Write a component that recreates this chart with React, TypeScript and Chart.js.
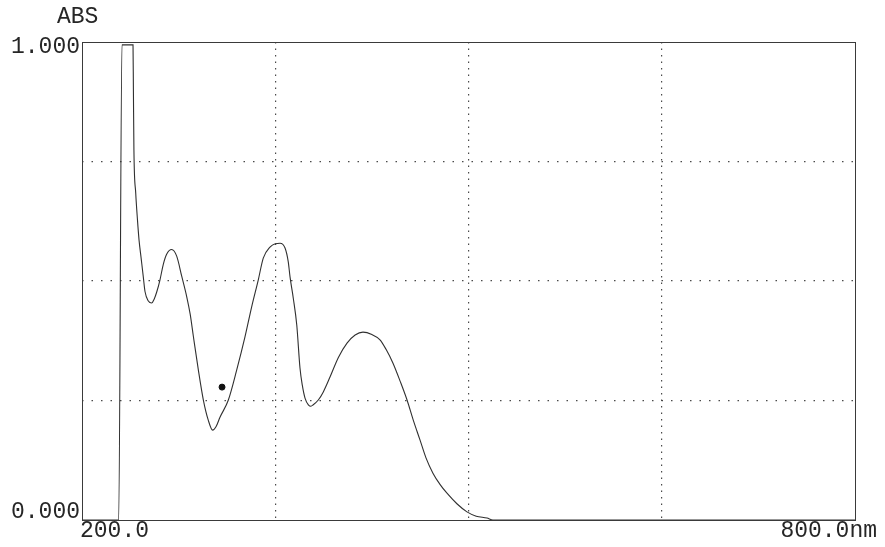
import React, { useEffect, useRef } from "react";
import { Chart, registerables } from "chart.js";

Chart.register(...registerables);

// Wavelength (nm) and absorbance
const wavelengths: number[] = [
  200, 228.5, 231, 239.6, 239.9, 240.3, 241.7, 243.0, 244.3, 245.8, 247.6, 248.9, 251.5, 254.1,
  256, 258.0, 260.5, 263.1, 265.7, 269.6, 273.5, 277.4, 281.3, 284, 286.4, 290.3, 294.2, 298.0,
  301.4, 304, 307.1, 313.6, 320.1, 326.5, 331.7, 336.8, 340.7, 345.9, 350, 353.7, 357.6, 360.1,
  361.5, 364.0, 366.7, 369.2, 371.0, 373.1, 375.7, 377.7, 379.5, 383.4, 387.3, 392.5, 399,
  405.7, 412, 418.1, 425, 431.3, 436, 441.4, 447, 452.3, 457, 462.4, 467, 472.4, 478, 483.3,
  491, 498.8, 506, 514.4, 519, 800,
];
const absorbance: number[] = [
  0, 0, 0.994, 0.994, 0.9, 0.774, 0.684, 0.63, 0.585, 0.55, 0.508, 0.478, 0.458, 0.454,
  0.462, 0.477, 0.502, 0.535, 0.556, 0.566, 0.552, 0.51, 0.467, 0.43, 0.385, 0.314, 0.251, 0.209,
  0.188, 0.195, 0.215, 0.251, 0.314, 0.383, 0.446, 0.502, 0.548, 0.571, 0.578, 0.579, 0.569, 0.54,
  0.508, 0.464, 0.408, 0.318, 0.282, 0.255, 0.241, 0.238, 0.241, 0.251, 0.268, 0.299, 0.34,
  0.37, 0.387, 0.393, 0.388, 0.377, 0.357, 0.328, 0.29, 0.251, 0.21, 0.167, 0.13, 0.098, 0.074, 0.056,
  0.034, 0.017, 0.008, 0.004, 0, 0,
];

// A stray ink blot on the printout
const blotX: number[] = [308.7];
const blotY: number[] = [0.278];

const xMin = 200;
const xMax = 800;
const xStep = 150;
const yMin = 0;
const yMax = 1;
const yStep = 0.25;

const yAxisTitle = "ABS";
const yTickLabels: string[] = ["0.000", "1.000"];
const xTickLabels: string[] = ["200.0", "800.0nm"];

const FONT = '23px "Liberation Mono", "Courier New", monospace';
const INK = "#262626";

const framePlugin = {
  id: "frameAndLabels",
  afterDraw(chart: any) {
    const { ctx, chartArea } = chart;
    const { left, right, top, bottom } = chartArea;
    ctx.save();
    // frame
    ctx.strokeStyle = "#3a3a3a";
    ctx.lineWidth = 1;
    ctx.strokeRect(Math.round(left) + 0.5, Math.round(top) + 0.5, Math.round(right - left), Math.round(bottom - top));
    // labels
    ctx.fillStyle = INK;
    ctx.font = FONT;
    ctx.textBaseline = "middle";
    ctx.textAlign = "left";
    ctx.fillText(yAxisTitle, left - 25, top - 25);
    ctx.textAlign = "right";
    ctx.fillText(yTickLabels[1], left - 2, top + 5);
    ctx.fillText(yTickLabels[0], left - 2, bottom - 8);
    ctx.textAlign = "left";
    ctx.fillText(xTickLabels[0], left - 2, bottom + 11);
    ctx.textAlign = "right";
    ctx.fillText(xTickLabels[1], right + 22, bottom + 11);
    ctx.restore();
  },
};

export default function App() {
  const canvasRef = useRef<HTMLCanvasElement | null>(null);

  useEffect(() => {
    document.body.style.margin = "0";
    document.body.style.background = "#ffffff";
    const canvas = canvasRef.current;
    if (!canvas) return;

    const chart = new Chart(canvas, {
      type: "line",
      data: {
        datasets: [
          {
            label: "Absorbance",
            data: wavelengths.map((x, i) => ({ x, y: absorbance[i] })),
            borderColor: "#303030",
            borderWidth: 1.1,
            pointRadius: 0,
            fill: false,
            cubicInterpolationMode: "monotone",
          },
          {
            type: "scatter",
            label: "blot",
            data: blotX.map((x, i) => ({ x, y: blotY[i] })),
            backgroundColor: "#111111",
            borderColor: "#111111",
            pointRadius: 3,
          } as any,
        ],
      },
      options: {
        animation: false,
        responsive: false,
        maintainAspectRatio: false,
        layout: { padding: { left: 82, right: 30, top: 42, bottom: 27 } },
        plugins: {
          legend: { display: false },
          tooltip: { enabled: false },
          title: { display: false },
        },
        scales: {
          x: {
            type: "linear",
            min: xMin,
            max: xMax,
            ticks: { display: false, stepSize: xStep },
            grid: {
              drawTicks: false,
              color: (ctx: any) => {
                const v = ctx.tick ? ctx.tick.value : null;
                return v === xMin || v === xMax ? "rgba(0,0,0,0)" : "#4a4a4a";
              },
              lineWidth: 1.2,
            },
            border: { display: false, dash: [1.5, 5] },
          },
          y: {
            type: "linear",
            min: yMin,
            max: yMax,
            ticks: { display: false, stepSize: yStep },
            grid: {
              drawTicks: false,
              color: (ctx: any) => {
                const v = ctx.tick ? ctx.tick.value : null;
                return v === yMin || v === yMax ? "rgba(0,0,0,0)" : "#4a4a4a";
              },
              lineWidth: 1.2,
            },
            border: { display: false, dash: [1.5, 8] },
          },
        },
      },
      plugins: [framePlugin],
    });

    return () => chart.destroy();
  }, []);

  return (
    <div style={{ position: "absolute", left: 0, top: 0, width: 885, height: 547, background: "#fff" }}>
      <canvas ref={canvasRef} width={885} height={547} />
    </div>
  );
}
